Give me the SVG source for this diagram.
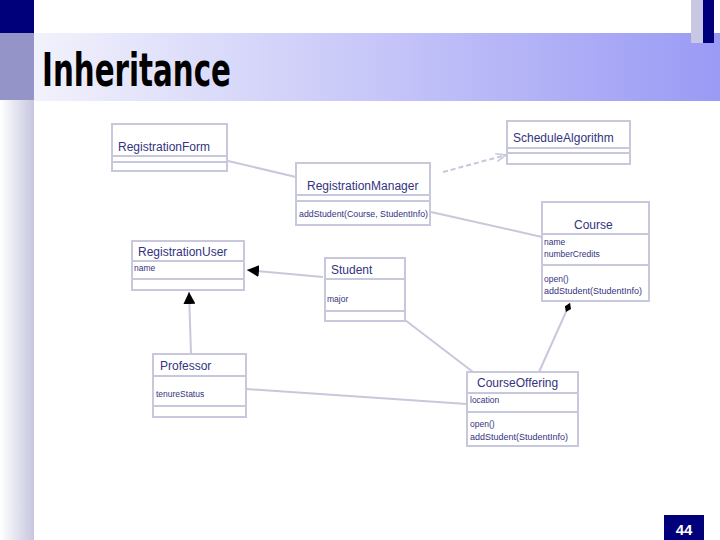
<svg xmlns="http://www.w3.org/2000/svg" width="720" height="540" viewBox="0 0 720 540">
<defs>
<linearGradient id="hdr" x1="0" y1="0" x2="1" y2="0">
<stop offset="0" stop-color="#f2f2fc"/>
<stop offset="1" stop-color="#9a9af5"/>
</linearGradient>
<linearGradient id="lbar" x1="0" y1="0" x2="1" y2="0">
<stop offset="0" stop-color="#ffffff"/>
<stop offset="1" stop-color="#c6c6e0"/>
</linearGradient>
<marker id="tri" viewBox="0 0 10 10" refX="10" refY="5" markerWidth="12" markerHeight="12" markerUnits="userSpaceOnUse" orient="auto">
<path d="M0,0 L10,5 L0,10 Z" fill="#000"/>
</marker>
<marker id="open" viewBox="0 0 10 10" refX="10" refY="5" markerWidth="10" markerHeight="10" markerUnits="userSpaceOnUse" orient="auto">
<path d="M0,1 L10,5 L0,9" fill="none" stroke="#c8c8dc" stroke-width="1.5"/>
</marker>
<marker id="dia" viewBox="0 0 12 8" refX="12" refY="4" markerWidth="10" markerHeight="7" markerUnits="userSpaceOnUse" orient="auto">
<path d="M0,4 L6,0 L12,4 L6,8 Z" fill="#000"/>
</marker>
</defs>
<style>
.box{fill:#fff;stroke:#c8c8dc;stroke-width:2}
.div{stroke:#c8c8dc;stroke-width:2}
.cn{font-family:"Liberation Sans",Arial,sans-serif;font-size:12px;fill:#333380}
.sm{font-family:"Liberation Sans",Arial,sans-serif;font-size:8.5px;fill:#333380}
.ln{stroke:#c8c8dc;stroke-width:2;fill:none}
</style>
<!-- background -->
<rect x="0" y="0" width="720" height="540" fill="#fff"/>
<rect x="34" y="33" width="686" height="68" fill="url(#hdr)"/>
<rect x="0" y="0" width="34" height="33" fill="#00007a"/>
<rect x="0" y="33" width="34" height="67" fill="#9494c8"/>
<rect x="0" y="100" width="34" height="440" fill="url(#lbar)"/>
<rect x="691" y="0" width="12" height="43" fill="#c8c8e4"/>
<rect x="703" y="0" width="11" height="43" fill="#00007a"/>
<text x="42" y="86" font-family="'Liberation Sans Narrow','DejaVu Sans Condensed','Liberation Sans',sans-serif" font-weight="bold" font-size="46" textLength="189" lengthAdjust="spacingAndGlyphs" fill="#000">Inheritance</text>

<g id="connectors">
<line class="ln" x1="228" y1="161" x2="296" y2="177"/>
<line class="ln" x1="443" y1="172" x2="506" y2="155" stroke-dasharray="5,3" marker-end="url(#open)"/>
<line class="ln" x1="431" y1="212" x2="542" y2="237"/>
<line class="ln" x1="323" y1="277" x2="247" y2="270" marker-end="url(#tri)"/>
<line class="ln" x1="191" y1="354" x2="189" y2="292" marker-end="url(#tri)"/>
<line class="ln" x1="246" y1="389" x2="467" y2="404"/>
<line class="ln" x1="405" y1="320" x2="473" y2="372"/>
<line class="ln" x1="539" y1="372" x2="570" y2="303" marker-end="url(#dia)"/>
</g>

<g id="RegistrationForm">
<rect class="box" x="112" y="124" width="115" height="47"/>
<line class="div" x1="112" y1="156" x2="227" y2="156"/>
<line class="div" x1="112" y1="162" x2="227" y2="162"/>
<text class="cn" x="118" y="151">RegistrationForm</text>
</g>

<g id="ScheduleAlgorithm">
<rect class="box" x="507" y="121" width="123" height="43"/>
<line class="div" x1="507" y1="148" x2="630" y2="148"/>
<line class="div" x1="507" y1="153" x2="630" y2="153"/>
<text class="cn" x="513" y="142">ScheduleAlgorithm</text>
</g>

<g id="RegistrationManager">
<rect class="box" x="296" y="163" width="134" height="62"/>
<line class="div" x1="296" y1="195" x2="430" y2="195"/>
<line class="div" x1="296" y1="201" x2="430" y2="201"/>
<text class="cn" x="307" y="190">RegistrationManager</text>
<text class="sm" x="299" y="217" textLength="129" lengthAdjust="spacingAndGlyphs">addStudent(Course, StudentInfo)</text>
</g>

<g id="Course">
<rect class="box" x="542" y="202" width="107" height="99"/>
<line class="div" x1="542" y1="234" x2="649" y2="234"/>
<line class="div" x1="542" y1="265" x2="649" y2="265"/>
<text class="cn" x="574" y="229">Course</text>
<text class="sm" x="544" y="245">name</text>
<text class="sm" x="544" y="257">numberCredits</text>
<text class="sm" x="544" y="282">open()</text>
<text class="sm" x="544" y="294" textLength="98" lengthAdjust="spacingAndGlyphs">addStudent(StudentInfo)</text>
</g>

<g id="RegistrationUser">
<rect class="box" x="132" y="241" width="112" height="49"/>
<line class="div" x1="132" y1="261" x2="244" y2="261"/>
<line class="div" x1="132" y1="279" x2="244" y2="279"/>
<text class="cn" x="138" y="256">RegistrationUser</text>
<text class="sm" x="134" y="271">name</text>
</g>

<g id="Student">
<rect class="box" x="325" y="258" width="80" height="63"/>
<line class="div" x1="325" y1="279" x2="405" y2="279"/>
<line class="div" x1="325" y1="311" x2="405" y2="311"/>
<text class="cn" x="331" y="274">Student</text>
<text class="sm" x="327" y="302">major</text>
</g>

<g id="Professor">
<rect class="box" x="153" y="354" width="93" height="63"/>
<line class="div" x1="153" y1="376" x2="246" y2="376"/>
<line class="div" x1="153" y1="406" x2="246" y2="406"/>
<text class="cn" x="160" y="370">Professor</text>
<text class="sm" x="156" y="397">tenureStatus</text>
</g>

<g id="CourseOffering">
<rect class="box" x="467" y="372" width="111" height="74"/>
<line class="div" x1="467" y1="393" x2="578" y2="393"/>
<line class="div" x1="467" y1="412" x2="578" y2="412"/>
<text class="cn" x="477" y="387">CourseOffering</text>
<text class="sm" x="470" y="403">location</text>
<text class="sm" x="470" y="427">open()</text>
<text class="sm" x="470" y="440" textLength="98" lengthAdjust="spacingAndGlyphs">addStudent(StudentInfo)</text>
</g>

<rect x="664" y="515" width="40" height="25" fill="#00007a"/>
<text x="684" y="535" text-anchor="middle" font-family="'Liberation Sans',Arial,sans-serif" font-weight="bold" font-size="15" fill="#fff">44</text>
</svg>
